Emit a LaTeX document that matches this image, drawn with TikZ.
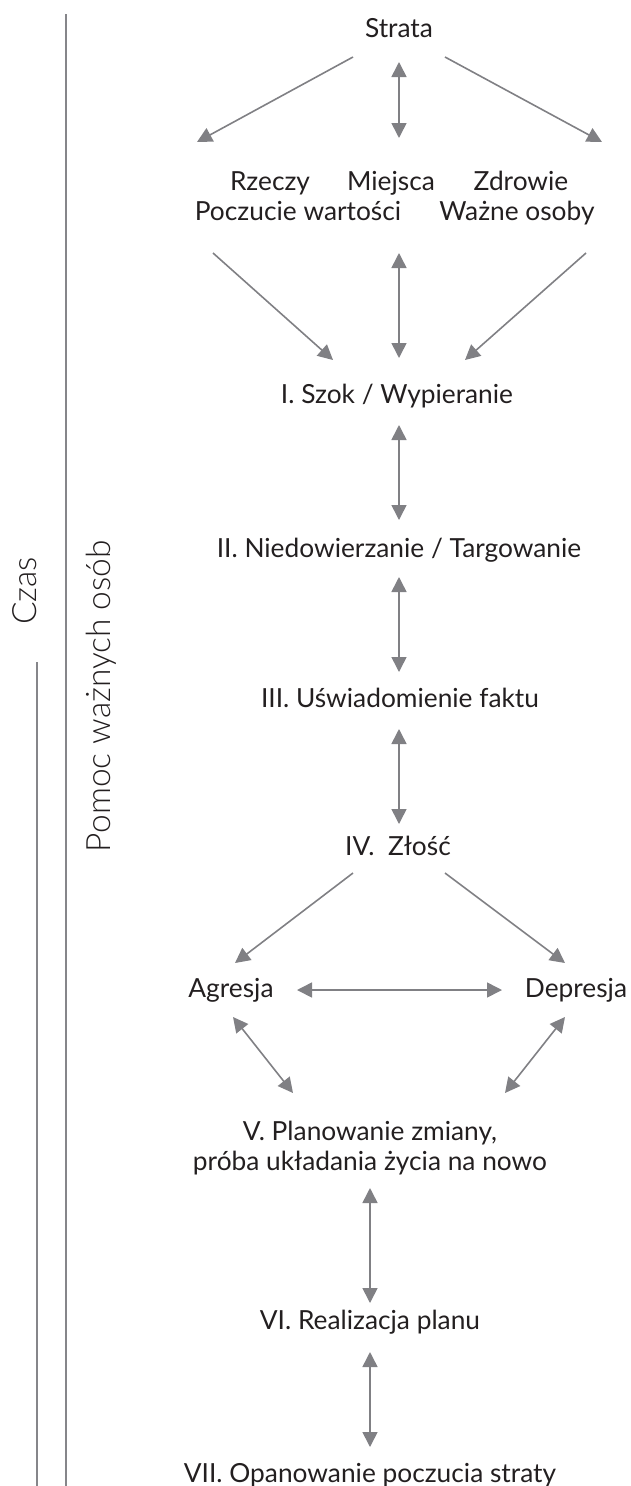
\documentclass[tikz,border=0pt]{standalone}
\usepackage{fontspec}
\setmainfont{Lato}
\newfontfamily\lightfont{Lato Light}
\usetikzlibrary{arrows.meta}
\definecolor{ink}{HTML}{231F20}
\definecolor{arrowgray}{HTML}{808084}
\definecolor{rulegray}{HTML}{86868A}
\tikzset{
  tip/.tip={Triangle[width=15pt,length=15pt]},
  arr/.style={draw=arrowgray, line width=1.6pt, -tip},
  dbl/.style={draw=arrowgray, line width=1.6pt, tip-tip},
  lbl/.style={text=ink, inner sep=0pt, anchor=base, font=\fontsize{26.3}{30}\selectfont, align=center},
  side/.style={text=ink, inner sep=0pt, rotate=90, font=\lightfont\fontsize{33.5}{40}\selectfont},
  rule/.style={draw=rulegray, line width=1.6pt},
}
\begin{document}
\begin{tikzpicture}[x=1pt, y=-1pt]
\useasboundingbox (0,0) rectangle (630,1486);

% stages and losses
\node[lbl] (strata)   at (399,37)   {Strata};
\node[lbl] (rzeczy)   at (270,190)  {Rzeczy};
\node[lbl] (miejsca)  at (391,190)  {Miejsca};
\node[lbl] (zdrowie)  at (521,190)  {Zdrowie};
\node[lbl] (poczucie) at (298,220)  {Poczucie wartości};
\node[lbl] (wazne)    at (517,220)  {Ważne osoby};
\node[lbl] (szok)     at (397,403)  {I. Szok / Wypieranie};
\node[lbl] (niedow)   at (399,557)  {II. Niedowierzanie / Targowanie};
\node[lbl] (uswiad)   at (400,707)  {III. Uświadomienie faktu};
\node[lbl] (zlosc)    at (398,855)  {IV.\ \ Złość};
\node[lbl] (agresja)  at (231,997)  {Agresja};
\node[lbl] (depresja) at (576,997)  {Depresja};
% two-line label: its base anchor sits on the last line
\node[lbl] (plan)     at (370,1170) {V. Planowanie zmiany,\\próba układania życia na nowo};
\node[lbl] (realiz)   at (370,1329) {VI. Realizacja planu};
\node[lbl] (opan)     at (370,1482) {VII. Opanowanie poczucia straty};

% side labels and time axis
\node[side] (czas)  at (25,591) {Czas};
\node[side] (pomoc) at (101,696) {Pomoc ważnych osób};
\coordinate (r1top) at (66,14);
\coordinate (r1bot) at (66,1486);
\coordinate (r2top) at (37,662);
\coordinate (r2bot) at (37,1486);
\draw[rule] (r1top) -- (r1bot);
\draw[rule] (r2top) -- (r2bot);

% arrow end points
\coordinate (sL) at (353,57);   \coordinate (gL) at (197,142);
\coordinate (sR) at (445,57);   \coordinate (gR) at (602,142);
\coordinate (sM) at (399,62);   \coordinate (gM) at (399,138);
\coordinate (hL) at (213,253);  \coordinate (kL) at (333,360);
\coordinate (hM) at (399,253);  \coordinate (kM) at (399,358);
\coordinate (hR) at (586,253);  \coordinate (kR) at (465,360);
\coordinate (a1) at (399,425);  \coordinate (b1) at (399,520);
\coordinate (a2) at (399,577);  \coordinate (b2) at (399,672);
\coordinate (a3) at (399,729);  \coordinate (b3) at (399,824);
\coordinate (zL) at (353,873);  \coordinate (eA) at (235,963);
\coordinate (zR) at (445,873);  \coordinate (eD) at (565,963);
\coordinate (hA) at (297,990);  \coordinate (hD) at (502,990);
\coordinate (aU) at (233,1017); \coordinate (aV) at (293,1093);
\coordinate (dU) at (565,1017); \coordinate (dV) at (505,1093);
\coordinate (a5) at (370,1188); \coordinate (b5) at (370,1303);
\coordinate (a6) at (370,1352); \coordinate (b6) at (370,1447);

% connectors
\draw[arr] (sL) -- (gL);
\draw[arr] (sR) -- (gR);
\draw[dbl] (sM) -- (gM);
\draw[arr] (hL) -- (kL);
\draw[dbl] (hM) -- (kM);
\draw[arr] (hR) -- (kR);
\draw[dbl] (a1) -- (b1);
\draw[dbl] (a2) -- (b2);
\draw[dbl] (a3) -- (b3);
\draw[arr] (zL) -- (eA);
\draw[arr] (zR) -- (eD);
\draw[dbl] (hA) -- (hD);
\draw[dbl] (aU) -- (aV);
\draw[dbl] (dU) -- (dV);
\draw[dbl] (a5) -- (b5);
\draw[dbl] (a6) -- (b6);
\end{tikzpicture}
\end{document}
